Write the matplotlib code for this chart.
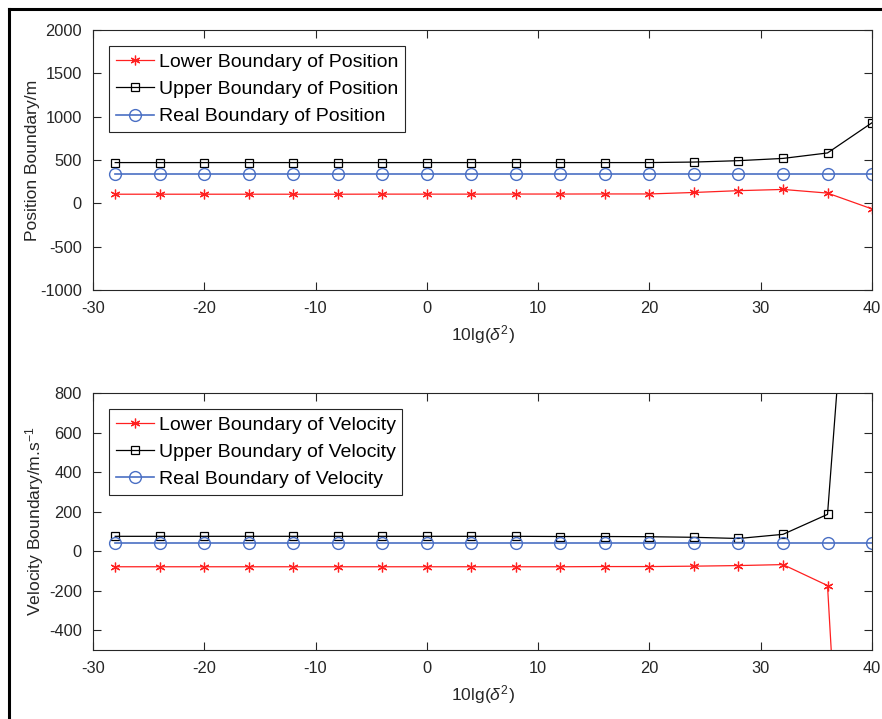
import matplotlib
matplotlib.use("Agg")
import matplotlib.pyplot as plt
from matplotlib.lines import Line2D
import numpy as np

plt.rcParams['font.family'] = ['Liberation Sans', 'DejaVu Sans']
plt.rcParams['mathtext.fontset'] = 'custom'
plt.rcParams['mathtext.rm'] = 'Liberation Sans'
plt.rcParams['mathtext.it'] = 'Liberation Sans:italic'
plt.rcParams['axes.unicode_minus'] = False

# x values: 10lg(delta^2)
snr = [-28, -24, -20, -16, -12, -8, -4, 0, 4, 8, 12, 16, 20, 24, 28, 32, 36, 40]

pos_lower = [105, 105, 105, 105, 105, 105, 106, 106, 106, 107, 107, 108, 108, 125, 146, 160, 118, -65]
pos_upper = [470, 470, 470, 470, 470, 470, 470, 470, 470, 470, 470, 470, 470, 476, 492, 518, 581, 930]
pos_real = [335] * 18

vel_lower = [-79, -79, -79, -79, -79, -79, -79, -79, -79, -79, -79, -78, -78, -76, -73, -68, -174, -4100]
vel_upper = [75, 75, 75, 75, 75, 75, 75, 75, 75, 75, 74, 74, 73, 70, 64, 85, 186, 3150]
vel_real = [42] * 18

grey = '#262626'
red = '#ff2020'
blue = '#4a6fc4'

fig = plt.figure(figsize=(8.82, 7.19), dpi=100)
ax1 = fig.add_axes([0.1054, 0.5967, 0.8833, 0.3616])
ax2 = fig.add_axes([0.1054, 0.0960, 0.8833, 0.3574])


def draw(ax, lo, up, real, name):
    ax.plot(snr, lo, color=red, lw=0.9, marker=(6, 2, 0), ms=7, mew=0.9,
            label='Lower Boundary of ' + name)
    ax.plot(snr, up, color='black', lw=0.9, marker='s', ms=6, mfc='none', mew=0.9,
            label='Upper Boundary of ' + name)
    ax.plot(snr, real, color=blue, lw=1.2, marker='o', ms=8.5, mfc='none', mew=1.0,
            label='Real Boundary of ' + name)
    ax.set_xlim(-30, 40)
    ax.set_xticks(np.arange(-30, 41, 10))
    ax.tick_params(direction='in', length=5.5, width=0.8, top=True, right=True,
                   labelsize=11.8, colors=grey, pad=8)
    for s in ax.spines.values():
        s.set_color(grey)
        s.set_linewidth(0.8)
    ax.set_xlabel(r'10lg($\delta^2$)', fontsize=12.6, color=grey, labelpad=5)
    leg = ax.legend(loc='upper left', bbox_to_anchor=(0.0205, 0.937), fontsize=14,
                    frameon=True, fancybox=False, framealpha=1, edgecolor=grey,
                    borderaxespad=0, handlelength=1.95, handletextpad=0.25,
                    borderpad=0.35, labelspacing=0.5)
    leg.get_frame().set_linewidth(0.8)


draw(ax1, pos_lower, pos_upper, pos_real, 'Position')
ax1.set_ylim(-1000, 2000)
ax1.set_yticks(np.arange(-1000, 2001, 500))
ax1.set_ylabel('Position Boundary/m', fontsize=12.6, color=grey, labelpad=0)

draw(ax2, vel_lower, vel_upper, vel_real, 'Velocity')
ax2.set_ylim(-500, 800)
ax2.set_yticks(np.arange(-400, 801, 200))
ax2.set_ylabel(r'Velocity Boundary/m.s$^{-1}$', fontsize=12.6, color=grey, labelpad=2)

# frame edges of the original figure window
fig.add_artist(Line2D([0.0102, 1.0], [0.9875, 0.9875], color='black', lw=2.2,
                      transform=fig.transFigure))
fig.add_artist(Line2D([0.0102, 0.0102], [0.0, 0.9875], color='black', lw=2.2,
                      transform=fig.transFigure))

fig.savefig('out.png', dpi=100)
